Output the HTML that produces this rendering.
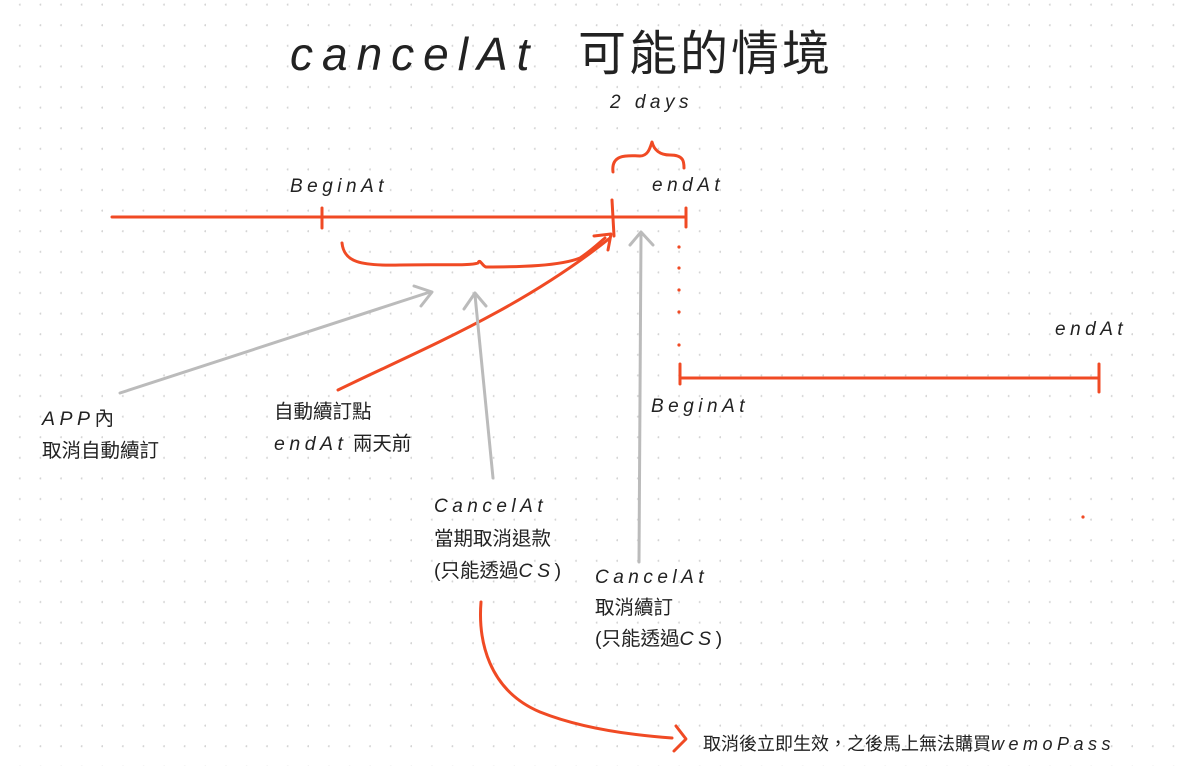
<!DOCTYPE html>
<html><head><meta charset="utf-8"><style>
html,body{margin:0;padding:0;background:#fff;}
svg{display:block}
text{font-family:"Liberation Sans","Noto Sans CJK TC",sans-serif;fill:#222}
.it{font-style:italic;letter-spacing:4.5px}
</style></head><body>
<svg width="1183" height="766" viewBox="0 0 1183 766" xmlns="http://www.w3.org/2000/svg">
<defs>
<pattern id="d" x="0" y="0" width="20.6" height="20.6" patternUnits="userSpaceOnUse">
<circle cx="20" cy="4.6" r="1.1" fill="#d4d4d4"/>
</pattern>
</defs>
<rect width="1183" height="766" fill="url(#d)"/>
<g fill="none" stroke="#f04a24" stroke-width="3" stroke-linecap="round" stroke-linejoin="round">
<path d="M112 217 L686 217"/>
<path d="M322 208 L322 228"/>
<path d="M612 200 L614 236"/>
<path d="M686 208 L686 227"/>
<path d="M613 172 C611 155 625 155 640 156 C648 156 650 148 652 142 C654 150 660 155 670 155 C684 155 684 162 684 168"/>
<path d="M342 243 C344 262 360 266 400 265 C440 264 470 266 478 263 C480 258 482 266 486 267 C520 267 560 266 580 258 C592 250 600 242 605 238"/>
<path d="M338 390 C420 350 520 310 610 238"/>
<path d="M594 236 L611 234 L608 250"/>
<path d="M680 364 L680 384"/>
<path d="M680 378 L1099 378"/>
<path d="M1099 364 L1099 392"/>
<path d="M481 602 C478 640 488 690 540 712 C580 728 630 735 672 738"/>
<path d="M676 726 L686 739 L674 751"/>
</g>
<g fill="#f04a24">
<circle cx="679" cy="247" r="1.6"/><circle cx="679" cy="268" r="1.6"/>
<circle cx="679" cy="290" r="1.6"/><circle cx="679" cy="312" r="1.6"/>
<circle cx="679" cy="345" r="1.6"/><circle cx="1083" cy="517" r="1.6"/>
</g>
<g fill="none" stroke="#bbbbbb" stroke-width="3" stroke-linecap="round" stroke-linejoin="round">
<path d="M120 393 L430 292"/><path d="M414 286 L432 292 L421 306"/>
<path d="M493 478 L475 295"/><path d="M464 309 L475 293 L486 306"/>
<path d="M639 562 L641 234"/><path d="M630 245 L641 232 L653 245"/>
</g>
<text x="290" y="70" font-size="46" font-style="italic" letter-spacing="9" fill="#111">cancelAt</text>
<text x="578" y="70" font-size="48" letter-spacing="3">可能的情境</text>
<text x="610" y="108" font-size="19" class="it">2 days</text>
<text x="290" y="192" font-size="19" class="it">BeginAt</text>
<text x="652" y="191" font-size="19" class="it">endAt</text>
<text x="1055" y="335" font-size="19" class="it">endAt</text>
<text x="651" y="412" font-size="19" class="it">BeginAt</text>
<text x="42" y="425" font-size="19.5"><tspan class="it">APP</tspan>內</text>
<text x="42" y="457" font-size="19.5">取消自動續訂</text>
<text x="274" y="418" font-size="19.5">自動續訂點</text>
<text x="274" y="450" font-size="19.5"><tspan class="it">endAt</tspan> 兩天前</text>
<text x="434" y="512" font-size="19" class="it">CancelAt</text>
<text x="434" y="545" font-size="19.5">當期取消退款</text>
<text x="434" y="577" font-size="19.5">(只能透過<tspan class="it">CS</tspan>)</text>
<text x="595" y="583" font-size="19" class="it">CancelAt</text>
<text x="595" y="614" font-size="19.5">取消續訂</text>
<text x="595" y="645" font-size="19.5">(只能透過<tspan class="it">CS</tspan>)</text>
<text x="703" y="750" font-size="18">取消後立即生效，之後馬上無法購買<tspan class="it">wemoPass</tspan></text>
</svg>
</body></html>
